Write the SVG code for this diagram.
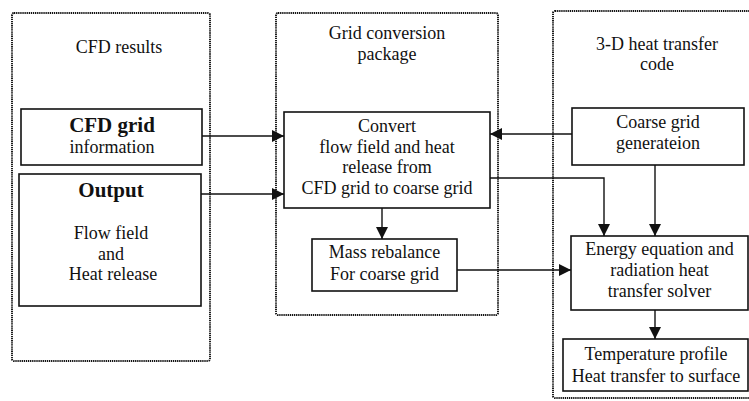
<svg xmlns="http://www.w3.org/2000/svg" width="749" height="401" viewBox="0 0 749 401">
<defs>
<style>
.panel{fill:none;stroke:#111;stroke-width:1.9;stroke-dasharray:1.3 0.8;}
.box{fill:#fff;stroke:#111;stroke-width:1.6;}
.conn{fill:none;stroke:#111;stroke-width:1.4;}
text{font-family:"Liberation Serif","Times New Roman",serif;font-size:18px;fill:#111;text-anchor:middle;}
.b{font-weight:bold;font-size:21px;}
</style>
<marker id="ah" markerUnits="userSpaceOnUse" markerWidth="12" markerHeight="12" refX="12" refY="6" orient="auto">
<path d="M0,0 L12,6 L0,12 z" fill="#111"/>
</marker>
</defs>
<rect width="749" height="401" fill="#fff"/>
<g id="panel-cfd">
<rect class="panel" x="12" y="13" width="198" height="348" rx="2"/>
<text x="119" y="53">CFD results</text>
</g>
<g id="panel-grid">
<rect class="panel" x="276" y="13" width="222" height="302" rx="2"/>
<text x="387" y="39">Grid conversion</text>
<text x="387" y="60">package</text>
</g>
<g id="panel-heat">
<rect class="panel" x="553" y="11" width="210" height="387" rx="2"/>
<text x="657" y="50">3-D heat transfer</text>
<text x="657" y="70">code</text>
</g>
<g id="cfd-grid">
<rect class="box" x="21" y="109" width="181" height="56"/>
<text class="b" x="112" y="132">CFD grid</text>
<text x="112" y="153">information</text>
</g>
<g id="output">
<rect class="box" x="19" y="174" width="182" height="132"/>
<text class="b" x="111" y="197">Output</text>
<text x="111" y="239">Flow field</text>
<text x="111" y="260">and</text>
<text x="113" y="280">Heat release</text>
</g>
<g id="convert">
<rect class="box" x="284" y="112" width="206" height="96"/>
<text x="387" y="132">Convert</text>
<text x="387" y="153">flow field and heat</text>
<text x="387" y="173">release from</text>
<text x="387" y="194">CFD grid to coarse grid</text>
</g>
<g id="mass">
<rect class="box" x="312" y="239" width="145" height="52"/>
<text x="384.5" y="258">Mass rebalance</text>
<text x="384.5" y="280">For coarse grid</text>
</g>
<g id="coarse">
<rect class="box" x="572" y="108" width="172" height="57"/>
<text x="658" y="128">Coarse grid</text>
<text x="658" y="149">generateion</text>
</g>
<g id="energy">
<rect class="box" x="571" y="236" width="177" height="74"/>
<text x="659.5" y="255">Energy equation and</text>
<text x="659.5" y="276">radiation heat</text>
<text x="659.5" y="297">transfer solver</text>
</g>
<g id="temperature">
<rect class="box" x="563" y="339" width="185" height="52"/>
<text x="656" y="360">Temperature profile</text>
<text x="656" y="382">Heat transfer to surface</text>
</g>
<g id="connectors">
<path class="conn" d="M202,136 H284" marker-end="url(#ah)"/>
<path class="conn" d="M201,194 H284" marker-end="url(#ah)"/>
<path class="conn" d="M572,134 H490" marker-end="url(#ah)"/>
<path class="conn" d="M490,178 H604 V236" marker-end="url(#ah)"/>
<path class="conn" d="M655,165 V236" marker-end="url(#ah)"/>
<path class="conn" d="M382,208 V239" marker-end="url(#ah)"/>
<path class="conn" d="M457,270 H571" marker-end="url(#ah)"/>
<path class="conn" d="M655,310 V339" marker-end="url(#ah)"/>
</g>
</svg>
